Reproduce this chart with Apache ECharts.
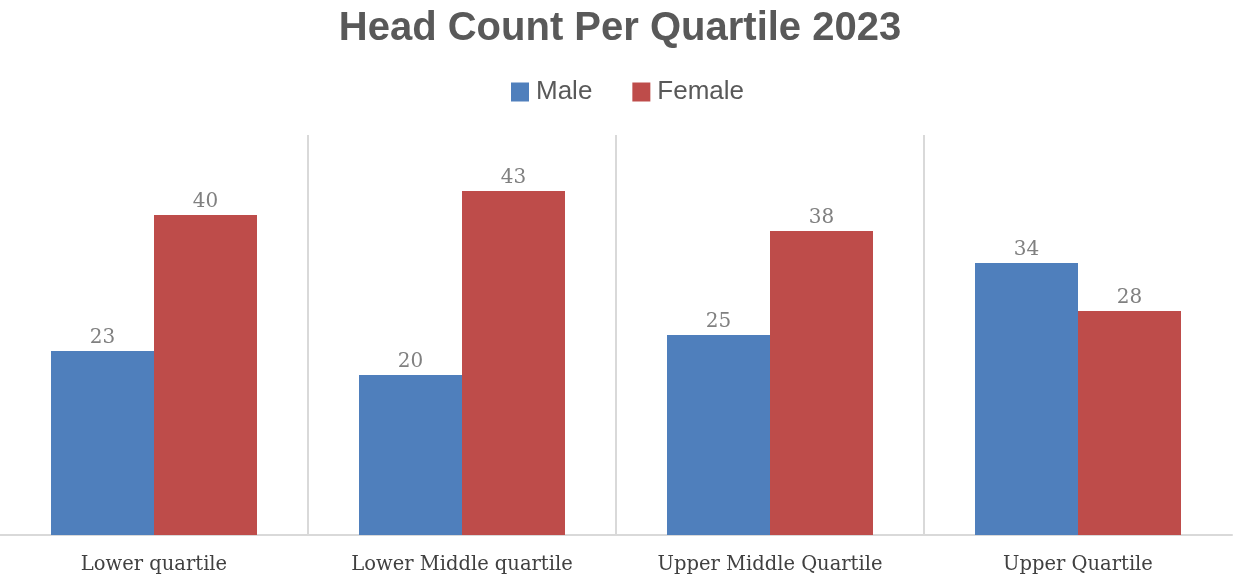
<!DOCTYPE html>
<html>
<head>
<meta charset="utf-8">
<style>
  html, body { margin: 0; padding: 0; background: #ffffff; }
  #chart { width: 1240px; height: 580px; }
</style>
<script src="https://cdn.jsdelivr.net/npm/echarts@6/dist/echarts.min.js"></script>
</head>
<body>
<div id="chart"></div>
<script>
// Head count per quartile, split by gender
const categories = ['Lower quartile', 'Lower Middle quartile', 'Upper Middle Quartile', 'Upper Quartile'];
const maleCounts = [23, 20, 25, 34];
const femaleCounts = [40, 43, 38, 28];

const chart = echarts.init(document.getElementById('chart'));

const labelStyle = {
  show: true,
  position: 'top',
  distance: 3,
  color: '#808080',
  fontFamily: 'DejaVu Serif',
  fontSize: 20
};

chart.setOption({
  backgroundColor: '#ffffff',
  animation: false,
  title: {
    text: 'Head Count Per Quartile 2023',
    left: 'center',
    top: 4,
    textStyle: {
      color: '#595959',
      fontFamily: 'Liberation Sans',
      fontWeight: 'bold',
      fontSize: 40
    }
  },
  legend: {
    data: ['Male', 'Female'],
    top: 74,
    left: 506,
    icon: 'rect',
    itemWidth: 18,
    itemHeight: 19,
    itemGap: 40,
    textStyle: {
      color: '#595959',
      fontFamily: 'Liberation Sans',
      fontSize: 26,
      padding: [0, 0, 0, 2]
    }
  },
  grid: { left: 0, right: 8, top: 135, bottom: 45, containLabel: false },
  xAxis: {
    type: 'category',
    data: categories,
    axisLine: { show: true, lineStyle: { color: '#d9d9d9', width: 2 } },
    axisTick: { show: false },
    splitLine: {
      show: true,
      showMinLine: false,
      showMaxLine: false,
      lineStyle: { color: '#d9d9d9', width: 2 }
    },
    axisLabel: {
      color: '#404040',
      fontFamily: 'DejaVu Serif',
      fontSize: 19.5,
      margin: 20
    }
  },
  yAxis: {
    type: 'value',
    min: 0,
    max: 50,
    show: false,
    splitLine: { show: false }
  },
  series: [
    {
      name: 'Male',
      type: 'bar',
      data: maleCounts,
      barWidth: 103,
      barGap: '0%',
      itemStyle: { color: '#4f7fbc' },
      label: labelStyle
    },
    {
      name: 'Female',
      type: 'bar',
      data: femaleCounts,
      barWidth: 103,
      barGap: '0%',
      itemStyle: { color: '#be4c4a' },
      label: labelStyle
    }
  ]
});
</script>
</body>
</html>
